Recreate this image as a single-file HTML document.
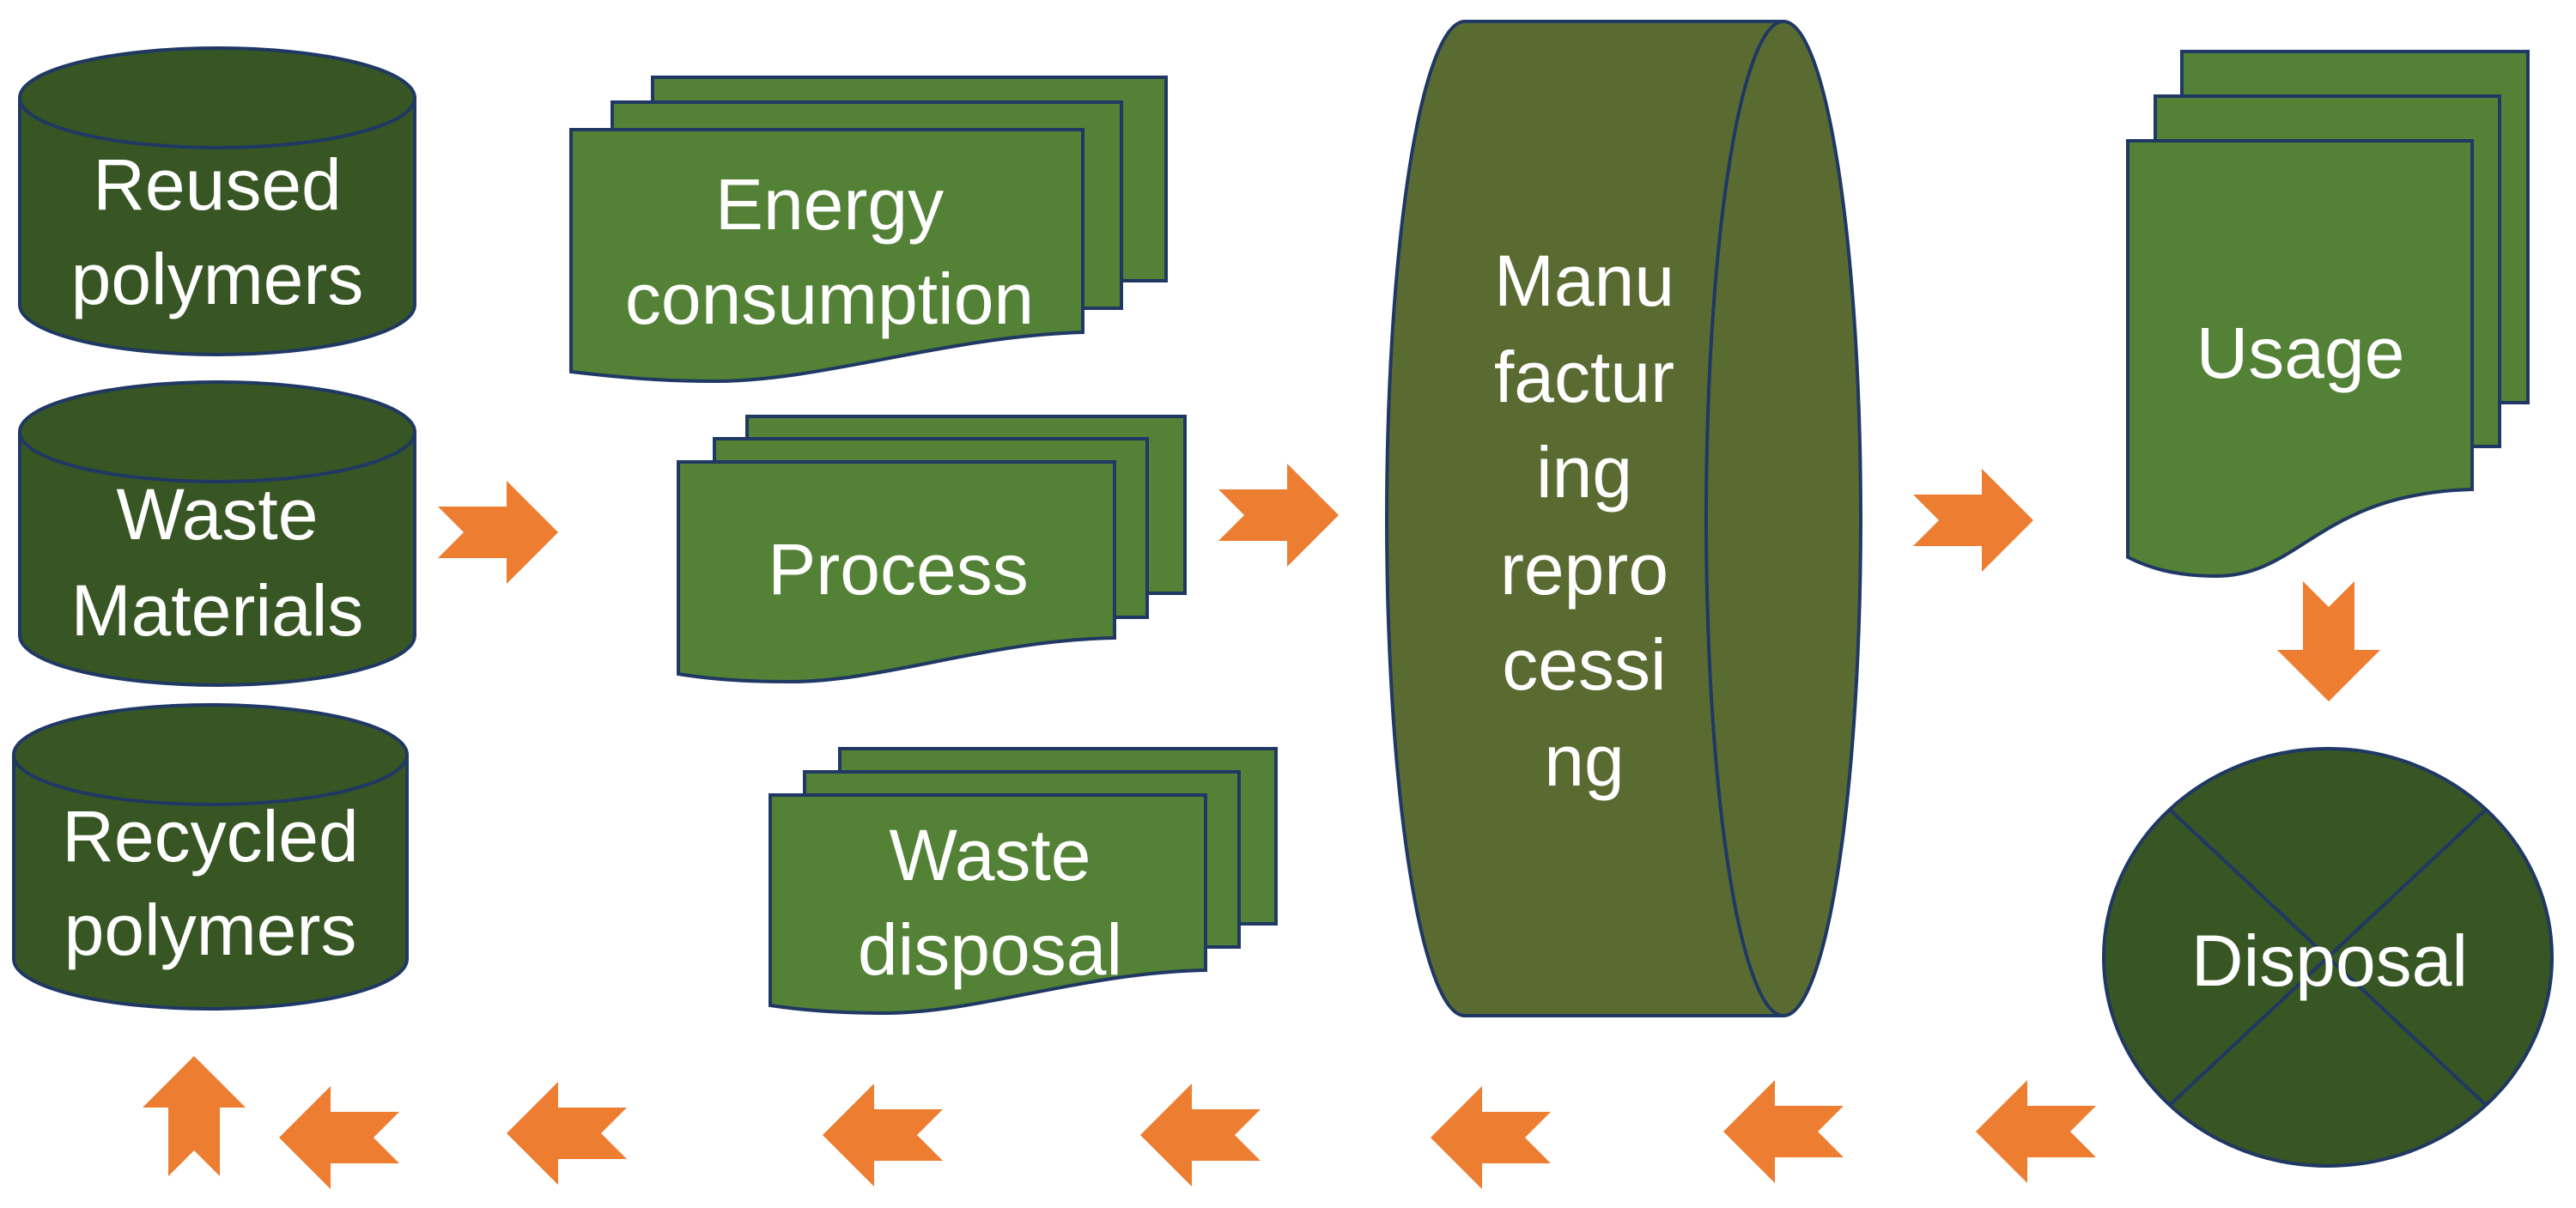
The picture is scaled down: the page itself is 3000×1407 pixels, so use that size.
<!DOCTYPE html>
<html><head><meta charset="utf-8"><style>html,body{margin:0;padding:0;background:#fff}svg{display:block}</style></head>
<body>
<svg width="3000" height="1407" viewBox="0 0 3000 1407" xmlns="http://www.w3.org/2000/svg">
<defs>
<path id="ar" d="M0,-30 H80 V-60 L140,0 L80,60 V30 H0 L30,0 Z" fill="#ed7d31"/>
</defs>
<g stroke="#1f3864" stroke-width="4">
<path d="M23,114 A230,58 0 0 1 483,114 V355 A230,58 0 0 1 23,355 Z" fill="#375623"/>
<path d="M23,114 A230,58 0 0 0 483,114" fill="none"/>
<path d="M23,503 A230,58 0 0 1 483,503 V740 A230,58 0 0 1 23,740 Z" fill="#375623"/>
<path d="M23,503 A230,58 0 0 0 483,503" fill="none"/>
<path d="M16,879 A229,58 0 0 1 474,879 V1117 A229,58 0 0 1 16,1117 Z" fill="#375623"/>
<path d="M16,879 A229,58 0 0 0 474,879" fill="none"/>

<rect x="760" y="90" width="598" height="237" fill="#538135"/>
<rect x="713" y="119" width="593" height="240" fill="#538135"/>
<path d="M665,151 H1261 V387 C1100,392 960,444 832,444 C760,444 710,438 665,433 Z" fill="#538135"/>
<rect x="870" y="485" width="510" height="206" fill="#538135"/>
<rect x="832" y="511" width="504" height="208" fill="#538135"/>
<path d="M790,538 H1298 V743 C1150,746 1030,794 920,794 C860,794 820,790 790,785 Z" fill="#538135"/>
<rect x="978" y="872" width="508" height="204" fill="#538135"/>
<rect x="937" y="899" width="506" height="204" fill="#538135"/>
<path d="M897,926 H1404 V1130 C1260,1133 1140,1180 1030,1180 C970,1180 930,1176 897,1171 Z" fill="#538135"/>
<rect x="2541" y="60" width="403" height="409" fill="#538135"/>
<rect x="2510" y="112" width="401" height="408" fill="#538135"/>
<path d="M2478,164 H2879 V570 C2700,575 2680,671 2581,671 C2530,671 2500,660 2478,649 Z" fill="#538135"/>

<path d="M1706,25 H2077 A90,579 0 0 1 2077,1183 H1706 A91,579 0 0 1 1706,25 Z" fill="#5a6b31"/>
<path d="M2077,25 A90,579 0 0 0 2077,1183" fill="none"/>

<ellipse cx="2711" cy="1115" rx="261" ry="243" fill="#375623"/>
<line x1="2527" y1="943" x2="2895" y2="1287"/>
<line x1="2895" y1="943" x2="2527" y2="1287"/>
</g>

<use href="#ar" transform="translate(510,620)"/>
<use href="#ar" transform="translate(1419,600)"/>
<use href="#ar" transform="translate(2228,606)"/>
<use href="#ar" transform="translate(2712,677) rotate(90)"/>
<use href="#ar" transform="translate(465,1325) scale(-1,1)"/>
<use href="#ar" transform="translate(730,1320) scale(-1,1)"/>
<use href="#ar" transform="translate(1098,1322) scale(-1,1)"/>
<use href="#ar" transform="translate(1468,1322) scale(-1,1)"/>
<use href="#ar" transform="translate(1806,1325) scale(-1,1)"/>
<use href="#ar" transform="translate(2147,1318) scale(-1,1)"/>
<use href="#ar" transform="translate(2441,1318) scale(-1,1)"/>
<use href="#ar" transform="translate(226,1370) rotate(-90)"/>

<g fill="#fff" font-family="Liberation Sans, sans-serif" font-size="84" text-anchor="middle">
<text x="253" y="244">Reused</text>
<text x="253" y="354">polymers</text>
<text x="253" y="628">Waste</text>
<text x="253" y="740">Materials</text>
<text x="245" y="1003">Recycled</text>
<text x="245" y="1112">polymers</text>
<text x="966" y="267">Energy</text>
<text x="966" y="377">consumption</text>
<text x="1046" y="692">Process</text>
<text x="1153" y="1025">Waste</text>
<text x="1153" y="1135">disposal</text>
<text x="1845" y="356">Manu</text>
<text x="1845" y="468">factur</text>
<text x="1845" y="579">ing</text>
<text x="1845" y="692">repro</text>
<text x="1845" y="803">cessi</text>
<text x="1845" y="915">ng</text>
<text x="2679" y="440">Usage</text>
<text x="2713" y="1148">Disposal</text>
</g>
</svg>
</body></html>
